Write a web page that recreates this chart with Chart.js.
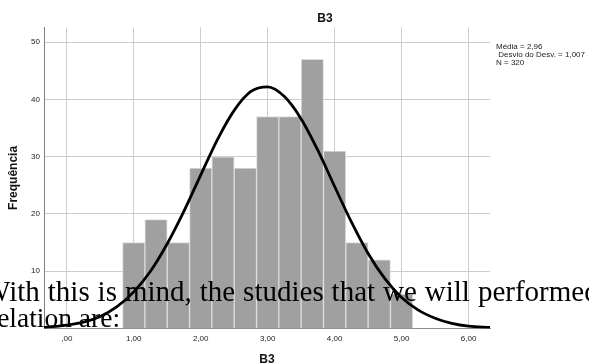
<!DOCTYPE html>
<html>
<head>
<meta charset="utf-8">
<script src="https://cdn.jsdelivr.net/npm/chart.js@4.4.1/dist/chart.umd.min.js"></script>
<style>
    html, body { margin: 0; padding: 0; background: #fff; }
    #wrap { position: relative; width: 589px; height: 364px; overflow: hidden; }
    #hist { position: absolute; left: 0; top: 0; }
    #title {
        position: absolute; left: 325px; top: 12px; transform: translateX(-50%);
        font: bold 12px/12px "Liberation Sans", Arial, sans-serif; color: #111;
    }
    #stats {
        position: absolute; left: 496px; top: 43px; white-space: pre;
        font: 8px/8px "Liberation Sans", Arial, sans-serif; color: #222;
    }
    .doc {
        position: absolute; white-space: nowrap; color: #000;
        font-family: "Liberation Serif", "Times New Roman", serif;
    }
    #line1 { left: -17px; top: 276.5px; font-size: 29px; line-height: 29px; word-spacing: 0.7px; }
    #line2 { left: -12px; top: 303.5px; font-size: 27.5px; line-height: 27.5px; }
</style>
</head>
<body>
<div id="wrap">
    <canvas id="hist" width="589" height="364"></canvas>
    <div id="title">B3</div>
    <div id="stats"></div>
    <div class="doc" id="line1">With this is mind, the studies that we will performed</div>
    <div class="doc" id="line2">relation are:</div>
</div>
<script>
// 히스토그램 구간 (중심값) 과 빈도
const binCenters = [1.000, 1.333, 1.667, 2.000, 2.333, 2.667, 3.000, 3.333, 3.667, 4.000, 4.333, 4.667, 5.000];
const frequencies = [15, 19, 15, 28, 30, 28, 37, 37, 47, 31, 15, 12, 6];

// 정규분포 곡선
const curveX = [-0.34, 0, 0.25, 0.5, 0.75, 1, 1.25, 1.5, 1.75, 2, 2.25, 2.5, 2.75, 3, 3.25, 3.5, 3.75, 4, 4.25, 4.5, 4.75, 5, 5.25, 5.5, 5.75, 6, 6.32];
const curveY = [0.2, 0.6, 1.1, 2.1, 3.8, 6.4, 10.0, 14.8, 20.5, 26.8, 33.0, 38.1, 41.4, 42.2, 40.5, 36.6, 31.1, 24.8, 18.6, 13.1, 8.7, 5.4, 3.2, 1.8, 0.9, 0.4, 0.2];

// 축 눈금
const xTicks = [0, 1, 2, 3, 4, 5, 6];
const xTickLabels = [',00', '1,00', '2,00', '3,00', '4,00', '5,00', '6,00'];
const yTicks = [10, 20, 30, 40, 50];

// 통계 요약
const statLines = ['Média = 2,96', ' Desvio do Desv. = 1,007', 'N = 320'];

document.getElementById('stats').textContent = statLines.join('\n');

const FONT = '"Liberation Sans", Arial, sans-serif';

const ctx = document.getElementById('hist').getContext('2d');
new Chart(ctx, {
    type: 'bar',
    data: {
        datasets: [
            {
                type: 'line',
                label: 'Normal',
                data: curveX.map((x, i) => ({ x: x, y: curveY[i] })),
                borderColor: '#000',
                borderWidth: 2.8,
                pointRadius: 0,
                fill: false,
                cubicInterpolationMode: 'monotone',
                order: 0
            },
            {
                type: 'bar',
                label: 'B3',
                data: binCenters.map((x, i) => ({ x: x, y: frequencies[i] })),
                backgroundColor: '#a0a0a0',
                borderColor: '#dcdcdc',
                borderWidth: 1,
                borderSkipped: 'bottom',
                barPercentage: 1,
                categoryPercentage: 1,
                order: 1
            }
        ]
    },
    options: {
        responsive: false,
        animation: false,
        layout: { padding: { top: 27.3, right: 99, bottom: 0, left: 0 } },
        plugins: {
            legend: { display: false },
            tooltip: { enabled: false },
            title: { display: false }
        },
        scales: {
            x: {
                type: 'linear',
                min: -0.34,
                max: 6.32,
                offset: false,
                afterBuildTicks: function(axis) {
                    axis.ticks = xTicks.map(v => ({ value: v }));
                },
                afterFit: function(axis) {
                    axis.height = 35.5;
                },
                grid: { color: '#cccccc', lineWidth: 1, drawTicks: false, offset: false },
                border: { color: '#8c8c8c', width: 1 },
                ticks: {
                    padding: 5,
                    color: '#222',
                    font: { family: FONT, size: 8 },
                    maxRotation: 0,
                    autoSkip: false,
                    callback: function(val, index) {
                        return xTickLabels[index];
                    }
                },
                title: {
                    display: true,
                    text: 'B3',
                    color: '#111',
                    font: { family: FONT, size: 12, weight: 'bold', lineHeight: 0.65 },
                    padding: { top: 0, bottom: 0 }
                }
            },
            y: {
                min: 0,
                max: 52.6,
                afterBuildTicks: function(axis) {
                    axis.ticks = yTicks.map(v => ({ value: v }));
                },
                afterFit: function(axis) {
                    axis.width = 44;
                },
                grid: { color: '#cccccc', lineWidth: 1, drawTicks: false },
                border: { color: '#808080', width: 1 },
                ticks: {
                    padding: 4,
                    color: '#222',
                    font: { family: FONT, size: 8 }
                },
                title: {
                    display: true,
                    text: 'Frequência',
                    color: '#111',
                    font: { family: FONT, size: 12, weight: 'bold' },
                    padding: { top: 6, bottom: 0 }
                }
            }
        }
    }
});
</script>
</body>
</html>
